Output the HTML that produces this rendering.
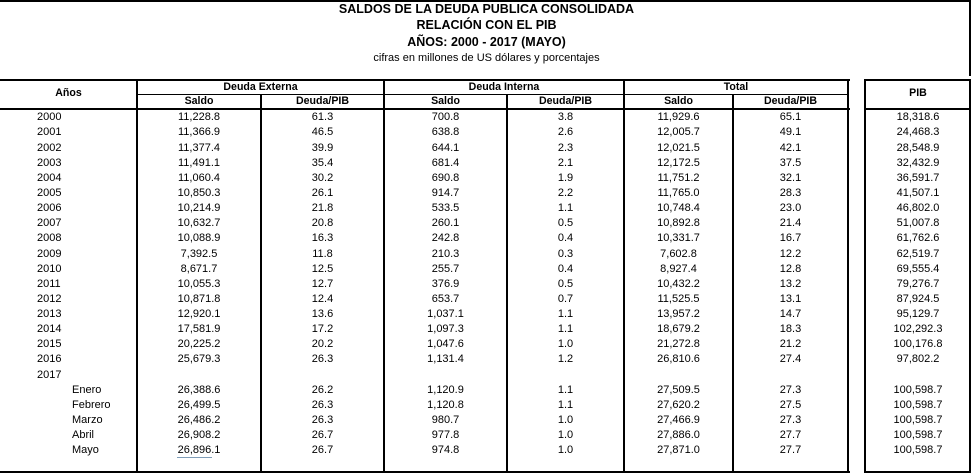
<!DOCTYPE html>
<html>
<head>
<meta charset="utf-8">
<style>
html,body{margin:0;padding:0;background:#fff;}
#w{position:relative;width:973px;height:475px;overflow:hidden;background:#fff;font-family:"Liberation Sans",Arial,sans-serif;color:#000;}
.ln{position:absolute;background:#000;}
.t{position:absolute;left:0;width:973px;text-align:center;font-weight:bold;font-size:12.5px;height:16px;line-height:16px;}
.st{position:absolute;left:0;width:973px;text-align:center;font-size:11px;height:16px;line-height:16px;}
.h{position:absolute;text-align:center;font-weight:bold;font-size:10.6px;height:15px;line-height:15px;}
.r{position:absolute;left:0;width:973px;height:15px;line-height:15px;font-size:11px;}
.r span{position:absolute;top:0;text-align:center;}
.y{left:37px;text-align:left!important;}
.m{left:72px;text-align:left!important;}
.a{left:137px;width:124px;}
.b{left:261px;width:123px;}
.c{left:384px;width:123px;}
.d{left:507px;width:117px;}
.e{left:624px;width:109px;}
.f{left:733px;width:115px;}
.g{left:865px;width:106px;}
</style>
</head>
<body>
<div id="w">
<!-- outer top box -->
<div class="ln" style="left:0;top:0;width:971px;height:2px;"></div>
<div class="ln" style="left:969px;top:0;width:2px;height:76px;"></div>

<div class="t" style="top:1px;">SALDOS DE LA DEUDA PUBLICA CONSOLIDADA</div>
<div class="t" style="top:17px;">RELACIÓN CON EL PIB</div>
<div class="t" style="top:34px;">AÑOS: 2000 - 2017 (MAYO)</div>
<div class="st" style="top:50px;">cifras en millones de US dólares y porcentajes</div>

<!-- main table lines -->
<div class="ln" style="left:0;top:79px;width:850px;height:2px;"></div>
<div class="ln" style="left:137px;top:94px;width:712px;height:1px;"></div>
<div class="ln" style="left:0;top:108px;width:850px;height:2px;"></div>
<div class="ln" style="left:0;top:471px;width:850px;height:2px;"></div>
<div class="ln" style="left:136px;top:79px;width:2px;height:394px;"></div>
<div class="ln" style="left:260px;top:94px;width:2px;height:379px;"></div>
<div class="ln" style="left:383px;top:79px;width:2px;height:394px;"></div>
<div class="ln" style="left:506px;top:94px;width:2px;height:379px;"></div>
<div class="ln" style="left:623px;top:79px;width:2px;height:394px;"></div>
<div class="ln" style="left:732px;top:94px;width:2px;height:379px;"></div>
<div class="ln" style="left:847px;top:79px;width:2px;height:394px;"></div>

<!-- PIB box -->
<div class="ln" style="left:864px;top:79px;width:107px;height:2px;"></div>
<div class="ln" style="left:864px;top:108px;width:107px;height:2px;"></div>
<div class="ln" style="left:864px;top:471px;width:107px;height:2px;"></div>
<div class="ln" style="left:864px;top:79px;width:2px;height:394px;"></div>
<div class="ln" style="left:969px;top:79px;width:2px;height:394px;"></div>

<!-- headers -->
<div class="h" style="left:0;width:137px;top:86px;">Años</div>
<div class="h" style="left:137px;width:247px;top:79.5px;">Deuda Externa</div>
<div class="h" style="left:384px;width:240px;top:79.5px;">Deuda Interna</div>
<div class="h" style="left:624px;width:224px;top:79.5px;">Total</div>
<div class="h" style="left:137px;width:124px;top:94px;">Saldo</div>
<div class="h" style="left:261px;width:123px;top:94px;">Deuda/PIB</div>
<div class="h" style="left:384px;width:123px;top:94px;">Saldo</div>
<div class="h" style="left:507px;width:117px;top:94px;">Deuda/PIB</div>
<div class="h" style="left:624px;width:109px;top:94px;">Saldo</div>
<div class="h" style="left:733px;width:115px;top:94px;">Deuda/PIB</div>
<div class="h" style="left:865px;width:106px;top:86px;">PIB</div>

<!-- data rows -->
<div class="r" style="top:110.3px"><span class="y">2000</span><span class="a">11,228.8</span><span class="b">61.3</span><span class="c">700.8</span><span class="d">3.8</span><span class="e">11,929.6</span><span class="f">65.1</span><span class="g">18,318.6</span></div>
<div class="r" style="top:125.4px"><span class="y">2001</span><span class="a">11,366.9</span><span class="b">46.5</span><span class="c">638.8</span><span class="d">2.6</span><span class="e">12,005.7</span><span class="f">49.1</span><span class="g">24,468.3</span></div>
<div class="r" style="top:140.6px"><span class="y">2002</span><span class="a">11,377.4</span><span class="b">39.9</span><span class="c">644.1</span><span class="d">2.3</span><span class="e">12,021.5</span><span class="f">42.1</span><span class="g">28,548.9</span></div>
<div class="r" style="top:155.7px"><span class="y">2003</span><span class="a">11,491.1</span><span class="b">35.4</span><span class="c">681.4</span><span class="d">2.1</span><span class="e">12,172.5</span><span class="f">37.5</span><span class="g">32,432.9</span></div>
<div class="r" style="top:170.8px"><span class="y">2004</span><span class="a">11,060.4</span><span class="b">30.2</span><span class="c">690.8</span><span class="d">1.9</span><span class="e">11,751.2</span><span class="f">32.1</span><span class="g">36,591.7</span></div>
<div class="r" style="top:186.0px"><span class="y">2005</span><span class="a">10,850.3</span><span class="b">26.1</span><span class="c">914.7</span><span class="d">2.2</span><span class="e">11,765.0</span><span class="f">28.3</span><span class="g">41,507.1</span></div>
<div class="r" style="top:201.1px"><span class="y">2006</span><span class="a">10,214.9</span><span class="b">21.8</span><span class="c">533.5</span><span class="d">1.1</span><span class="e">10,748.4</span><span class="f">23.0</span><span class="g">46,802.0</span></div>
<div class="r" style="top:216.2px"><span class="y">2007</span><span class="a">10,632.7</span><span class="b">20.8</span><span class="c">260.1</span><span class="d">0.5</span><span class="e">10,892.8</span><span class="f">21.4</span><span class="g">51,007.8</span></div>
<div class="r" style="top:231.3px"><span class="y">2008</span><span class="a">10,088.9</span><span class="b">16.3</span><span class="c">242.8</span><span class="d">0.4</span><span class="e">10,331.7</span><span class="f">16.7</span><span class="g">61,762.6</span></div>
<div class="r" style="top:246.5px"><span class="y">2009</span><span class="a">7,392.5</span><span class="b">11.8</span><span class="c">210.3</span><span class="d">0.3</span><span class="e">7,602.8</span><span class="f">12.2</span><span class="g">62,519.7</span></div>
<div class="r" style="top:261.6px"><span class="y">2010</span><span class="a">8,671.7</span><span class="b">12.5</span><span class="c">255.7</span><span class="d">0.4</span><span class="e">8,927.4</span><span class="f">12.8</span><span class="g">69,555.4</span></div>
<div class="r" style="top:276.7px"><span class="y">2011</span><span class="a">10,055.3</span><span class="b">12.7</span><span class="c">376.9</span><span class="d">0.5</span><span class="e">10,432.2</span><span class="f">13.2</span><span class="g">79,276.7</span></div>
<div class="r" style="top:291.9px"><span class="y">2012</span><span class="a">10,871.8</span><span class="b">12.4</span><span class="c">653.7</span><span class="d">0.7</span><span class="e">11,525.5</span><span class="f">13.1</span><span class="g">87,924.5</span></div>
<div class="r" style="top:307.0px"><span class="y">2013</span><span class="a">12,920.1</span><span class="b">13.6</span><span class="c">1,037.1</span><span class="d">1.1</span><span class="e">13,957.2</span><span class="f">14.7</span><span class="g">95,129.7</span></div>
<div class="r" style="top:322.1px"><span class="y">2014</span><span class="a">17,581.9</span><span class="b">17.2</span><span class="c">1,097.3</span><span class="d">1.1</span><span class="e">18,679.2</span><span class="f">18.3</span><span class="g">102,292.3</span></div>
<div class="r" style="top:337.3px"><span class="y">2015</span><span class="a">20,225.2</span><span class="b">20.2</span><span class="c">1,047.6</span><span class="d">1.0</span><span class="e">21,272.8</span><span class="f">21.2</span><span class="g">100,176.8</span></div>
<div class="r" style="top:352.4px"><span class="y">2016</span><span class="a">25,679.3</span><span class="b">26.3</span><span class="c">1,131.4</span><span class="d">1.2</span><span class="e">26,810.6</span><span class="f">27.4</span><span class="g">97,802.2</span></div>
<div class="r" style="top:367.5px"><span class="y">2017</span></div>
<div class="r" style="top:382.6px"><span class="m">Enero</span><span class="a">26,388.6</span><span class="b">26.2</span><span class="c">1,120.9</span><span class="d">1.1</span><span class="e">27,509.5</span><span class="f">27.3</span><span class="g">100,598.7</span></div>
<div class="r" style="top:397.8px"><span class="m">Febrero</span><span class="a">26,499.5</span><span class="b">26.3</span><span class="c">1,120.8</span><span class="d">1.1</span><span class="e">27,620.2</span><span class="f">27.5</span><span class="g">100,598.7</span></div>
<div class="r" style="top:412.9px"><span class="m">Marzo</span><span class="a">26,486.2</span><span class="b">26.3</span><span class="c">980.7</span><span class="d">1.0</span><span class="e">27,466.9</span><span class="f">27.3</span><span class="g">100,598.7</span></div>
<div class="r" style="top:428.0px"><span class="m">Abril</span><span class="a">26,908.2</span><span class="b">26.7</span><span class="c">977.8</span><span class="d">1.0</span><span class="e">27,886.0</span><span class="f">27.7</span><span class="g">100,598.7</span></div>
<div class="r" style="top:443.2px"><span class="m">Mayo</span><span class="a">26,896.1</span><span class="b">26.7</span><span class="c">974.8</span><span class="d">1.0</span><span class="e">27,871.0</span><span class="f">27.7</span><span class="g">100,598.7</span></div>

<!-- underline under Mayo value -->
<div class="ln" style="left:177px;top:457px;width:35px;height:1px;background:#7f9db8;"></div>
</div>
</body>
</html>
